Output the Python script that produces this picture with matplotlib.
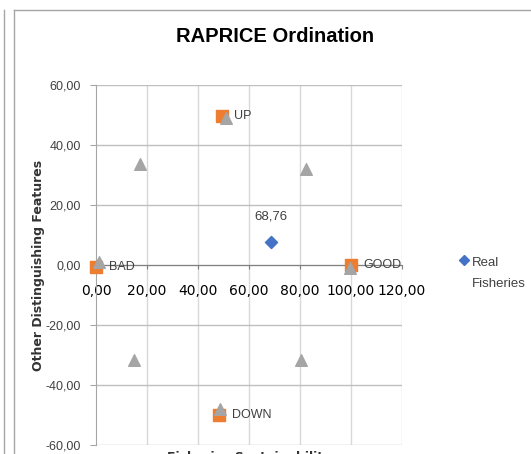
import matplotlib
matplotlib.use("Agg")
import matplotlib.pyplot as plt
from matplotlib import font_manager
from matplotlib.lines import Line2D
from matplotlib.legend_handler import HandlerLine2D

names = {f.name for f in font_manager.fontManager.ttflist}
NARROW = "Liberation Sans Narrow" if "Liberation Sans Narrow" in names else "Liberation Sans"

# ---- data ----
real_x = [68.76]
real_y = [7.6]
real_labels = ["68,76"]

ref_x = [0.0, 100.0, 49.3, 48.4]
ref_y = [-0.5, 0.0, 49.7, -50.0]
ref_labels = ["BAD", "GOOD", "UP", "DOWN"]

anchor_x = [1.3, 99.5, 51.0, 48.5, 17.3, 82.3, 14.9, 80.3]
anchor_y = [1.0, -1.0, 49.0, -48.0, 33.8, 31.9, -31.8, -31.8]

x_ticks = [0, 20, 40, 60, 80, 100, 120]
y_ticks = [-60, -40, -20, 0, 20, 40, 60]

title = "RAPRICE Ordination"
xlabel = "Fisheries Sustainability"
ylabel = "Other Distinguishing Features"
legend_label = "Real\nFisheries"


def fmt(v):
    return f"{v:.2f}".replace(".", ",")


class UpHandler(HandlerLine2D):
    def __init__(self, dy, **kw):
        super().__init__(**kw)
        self.dy = dy

    def create_artists(self, legend, orig_handle, xdescent, ydescent, width, height, fontsize, trans):
        arts = super().create_artists(legend, orig_handle, xdescent, ydescent, width, height, fontsize, trans)
        for a in arts:
            a.set_ydata([y + self.dy for y in a.get_ydata()])
        return arts


W, H = 531, 454
fig = plt.figure(figsize=(W / 100, H / 100), dpi=100)
ax = fig.add_axes([96 / W, 1 - 445 / H, (402 - 96) / W, (445 - 85) / H])

FS = 9
ax.set_xlim(0, 120)
ax.set_ylim(-60, 60)
ax.set_xticks(x_ticks)
ax.set_yticks(y_ticks)
ax.set_xticklabels([fmt(v) for v in x_ticks], fontfamily=NARROW, fontsize=FS, color="#404040")
ax.set_yticklabels([fmt(v) for v in y_ticks], fontfamily=NARROW, fontsize=FS, color="#404040")

# grid: horizontal darker, vertical lighter
for yv in y_ticks:
    ax.axhline(yv, color="#bfbfbf", lw=1.0, zorder=0.5)
for xv in x_ticks[1:]:
    ax.axvline(xv, color="#d9d9d9", lw=1.0, zorder=0.4)

for s in ["top", "right"]:
    ax.spines[s].set_visible(False)
ax.spines["bottom"].set_position(("data", 0))
ax.spines["bottom"].set_color("#808080")
ax.spines["left"].set_color("#a6a6a6")
ax.spines["bottom"].set_zorder(0.6)
ax.tick_params(axis="y", length=4, color="#a6a6a6", pad=7)
ax.tick_params(axis="x", length=3, color="#808080", pad=11)

ax.scatter(real_x, real_y, marker="D", s=38, color="#4472C4", zorder=3, clip_on=False)
ax.scatter(ref_x, ref_y, marker="s", s=70, color="#ED7D31", zorder=4, clip_on=False)
ax.scatter(anchor_x, anchor_y, marker="^", s=70, color="#A5A5A5", zorder=5, clip_on=False)

for x, y, t in zip(real_x, real_y, real_labels):
    ax.annotate(t, (x, y), xytext=(0, 14), textcoords="offset points", ha="center", va="bottom",
                fontfamily=NARROW, fontsize=FS + 0.5, color="#404040", zorder=6)
for x, y, t in zip(ref_x, ref_y, ref_labels):
    ax.annotate(t, (x, y), xytext=(9, 0), textcoords="offset points", ha="left", va="center",
                fontfamily=NARROW, fontsize=FS, color="#404040", zorder=6)

ax.set_title(title, fontfamily=NARROW, fontweight="bold", fontsize=14.5, color="black",
             x=(275 - 96) / 306, y=(454 - 45 - 9) / 360, va="center")

ax.set_ylabel(ylabel, fontfamily="DejaVu Sans", fontweight="bold", fontsize=9, color="#333333")
ax.yaxis.set_label_coords(39 / W, 1 - 265 / H, transform=fig.transFigure)
ax.yaxis.label.set_va("center")

fig.text(249 / W, 1 - 451 / H, xlabel, ha="center", va="top", fontfamily="DejaVu Sans",
         fontweight="bold", fontsize=9, color="#333333")

leg_handle = Line2D([], [], marker="D", linestyle="none", color="#4472C4", markersize=5.5)
leg = fig.legend([leg_handle], [legend_label], loc="upper left",
                 bbox_to_anchor=(453 / W, 1 - 250 / H), frameon=False,
                 prop={"family": NARROW, "size": FS + 0.5}, handlelength=0.6, handletextpad=0.3,
                 borderpad=0, labelspacing=0,
                 handler_map={leg_handle: UpHandler(dy=9.5)})
for t in leg.get_texts():
    t.set_color("#404040")
    t.set_linespacing(2.1)

# outer frame lines
fcol = "#a6a6a6"
fig.add_artist(Line2D([3.5 / W, 3.5 / W], [0, 1 - 10 / H], transform=fig.transFigure, color=fcol, lw=1))
fig.add_artist(Line2D([13.5 / W, 13.5 / W], [0, 1 - 10 / H], transform=fig.transFigure, color=fcol, lw=1))
fig.add_artist(Line2D([13.5 / W, 1], [1 - 10 / H, 1 - 10 / H], transform=fig.transFigure, color=fcol, lw=1))

fig.savefig("out.png", dpi=100)
